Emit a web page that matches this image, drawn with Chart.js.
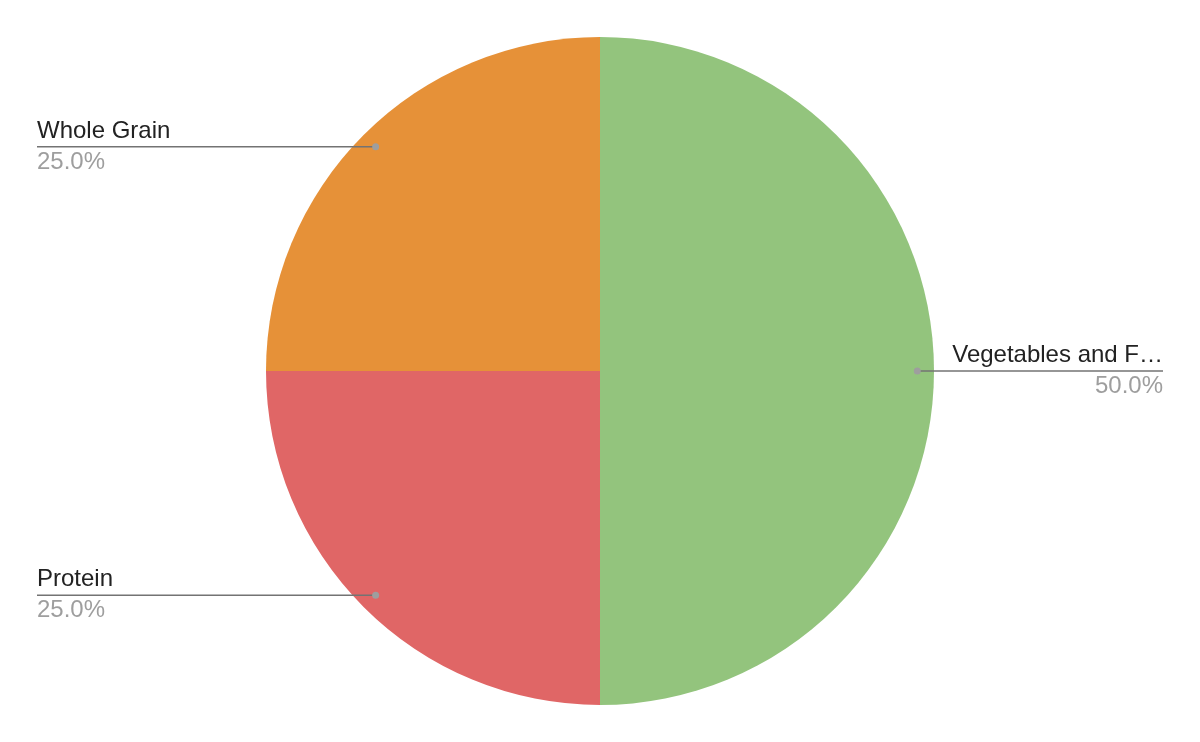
<!DOCTYPE html>
<html>
<head>
<meta charset="utf-8">
<script src="https://cdn.jsdelivr.net/npm/chart.js@4"></script>
<style>
  html, body { margin: 0; padding: 0; background: #fff; }
  #wrap { width: 1200px; height: 742px; }
</style>
</head>
<body>
<div id="wrap"><canvas id="pie" width="1200" height="742"></canvas></div>
<script>
const categories = ['Vegetables and Fruits', 'Protein', 'Whole Grain'];
const values = [50, 25, 25];
const sliceColors = ['#93C47D', '#E06666', '#E69138'];

const FONT = '24px Arial, "Liberation Sans", sans-serif';

function fitText(ctx, text, maxWidth) {
    if (ctx.measureText(text).width <= maxWidth) return text;
    let s = text;
    while (s.length > 1 && ctx.measureText(s + '…').width > maxWidth) s = s.slice(0, -1);
    return s.trimEnd() + '…';
}

// leader lines with name above and percentage below
const calloutLabels = {
    id: 'calloutLabels',
    afterDraw(chart) {
        const ctx = chart.ctx;
        const meta = chart.getDatasetMeta(0);
        const total = values.reduce((a, b) => a + b, 0);
        ctx.save();
        ctx.font = FONT;
        meta.data.forEach((arc, i) => {
            const mid = (arc.startAngle + arc.endAngle) / 2;
            const r = arc.outerRadius * 0.95;
            const px = arc.x + Math.cos(mid) * r;
            const py = arc.y + Math.sin(mid) * r;
            const right = Math.cos(mid) > 0;
            const endX = right ? 1163 : 37;

            ctx.strokeStyle = '#737373';
            ctx.lineWidth = 1.5;
            ctx.beginPath();
            ctx.moveTo(px, py);
            ctx.lineTo(endX, py);
            ctx.stroke();

            ctx.fillStyle = '#9e9e9e';
            ctx.beginPath();
            ctx.arc(px, py, 3.5, 0, Math.PI * 2);
            ctx.fill();

            ctx.textAlign = right ? 'right' : 'left';
            ctx.textBaseline = 'alphabetic';
            ctx.fillStyle = '#222222';
            ctx.fillText(fitText(ctx, categories[i], 212), endX, py - 9);
            ctx.fillStyle = '#9e9e9e';
            ctx.fillText((values[i] / total * 100).toFixed(1) + '%', endX, py + 22);
        });
        ctx.restore();
    }
};

new Chart(document.getElementById('pie'), {
    type: 'pie',
    data: {
        labels: categories,
        datasets: [{
            data: values,
            backgroundColor: sliceColors,
            borderWidth: 0,
        }]
    },
    options: {
        responsive: false,
        animation: false,
        layout: { padding: { top: 37, bottom: 37 } },
        plugins: {
            legend: { display: false },
            tooltip: { enabled: false },
        },
    },
    plugins: [calloutLabels],
});
</script>
</body>
</html>
